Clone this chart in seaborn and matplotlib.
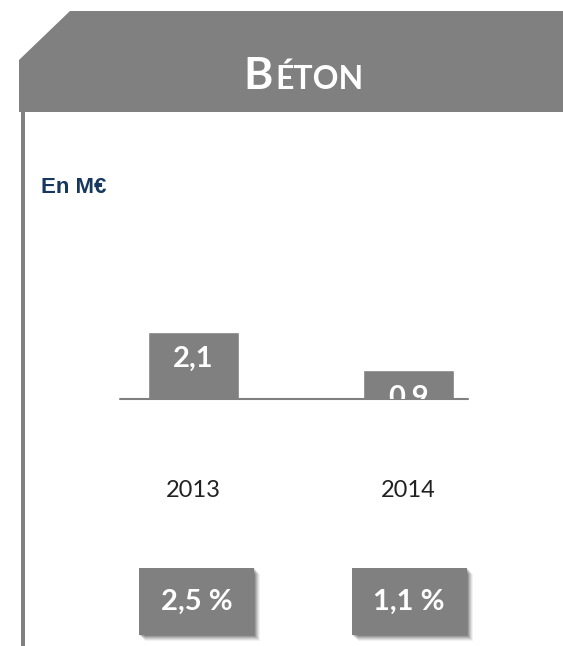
import matplotlib
matplotlib.use("Agg")
import matplotlib.pyplot as plt
import seaborn as sns
import pandas as pd
from matplotlib.patches import Polygon, Rectangle

# data
years = ["2013", "2014"]
values = [2.1, 0.9]          # En M€
shares = [2.5, 1.1]          # %
title_first = "B"
title_rest = "ÉTON"
unit_label = "En M€"

GRAY = "#808080"
BLUE = "#17375E"
W, H = 563, 646


def fx(x):
    return x / W


def fy(y):
    return 1 - y / H


def fr(v):
    return f"{v:.1f}".replace(".", ",")


def main():
    sns.set_style("white")
    plt.rcParams["font.family"] = ["Lato", "DejaVu Sans"]

    fig = plt.figure(figsize=(W / 100, H / 100), dpi=100)

    # header band with cut corner
    header = Polygon([(fx(19), fy(60)), (fx(70), fy(11)), (fx(563), fy(11)),
                      (fx(563), fy(112)), (fx(19), fy(112))],
                     closed=True, transform=fig.transFigure,
                     facecolor=GRAY, edgecolor="none")
    fig.add_artist(header)
    # left rule
    fig.add_artist(Rectangle((fx(21), fy(646)), fx(4), fy(112) - fy(646),
                             transform=fig.transFigure, facecolor=GRAY,
                             edgecolor="none"))

    fig.text(fx(273), fy(89), title_first, color="white", fontsize=32,
             fontweight="bold", ha="right", va="baseline")
    fig.text(fx(275), fy(89), title_rest, color="white", fontsize=23,
             fontweight="bold", ha="left", va="baseline")

    fig.text(fx(41), fy(193), unit_label, color=BLUE, fontsize=16,
             fontweight="bold", family=["Liberation Sans", "DejaVu Sans"],
             ha="left", va="baseline")

    # bar chart
    scale = 31.9  # px per M€
    ymax = 3
    ax = fig.add_axes([fx(120), fy(399), fx(468) - fx(120), ymax * scale / H])
    df = pd.DataFrame({"year": years, "value": values})
    sns.barplot(data=df, x="year", y="value", color=GRAY, saturation=1,
                width=91 / 215, ax=ax)
    ax.set_xlim(-73.5 / 215, 1 + 59.5 / 215)
    ax.set_ylim(0, ymax)
    ax.set_facecolor("none")
    for s in ax.spines.values():
        s.set_visible(False)
    ax.axhline(0, color=GRAY, lw=1.5, clip_on=False)
    ax.set_yticks([])
    ax.set_xlabel("")
    ax.set_ylabel("")
    ax.tick_params(axis="x", length=0, pad=58, labelsize=17, labelcolor="#222222")

    for i, v in enumerate(values):
        ax.annotate(fr(v), (i, v), xytext=(0, -19.5), textcoords="offset points",
                    ha="center", va="center", color="white", fontsize=21,
                    fontweight="bold", annotation_clip=False, clip_on=True)

    # share boxes
    centers = [196.5, 409]
    for cx, s in zip(centers, shares):
        x0, y0, bw, bh = cx - 57.5, 568, 115, 67
        for k, a in zip(range(6, 0, -1), [0.05, 0.07, 0.09, 0.11, 0.13, 0.15]):
            fig.add_artist(Rectangle((fx(x0 + k), fy(y0 + bh + k)), fx(bw), bh / H,
                                     transform=fig.transFigure,
                                     facecolor="black", alpha=a, edgecolor="none"))
        fig.add_artist(Rectangle((fx(x0), fy(y0 + bh)), fx(bw), bh / H,
                                 transform=fig.transFigure, facecolor=GRAY,
                                 edgecolor="none"))
        fig.text(fx(cx), fy(y0 + bh / 2), f"{fr(s)} %", color="white",
                 fontsize=21, fontweight="bold", ha="center", va="center")

    fig.savefig("out.png", dpi=100)


if __name__ == "__main__":
    main()
